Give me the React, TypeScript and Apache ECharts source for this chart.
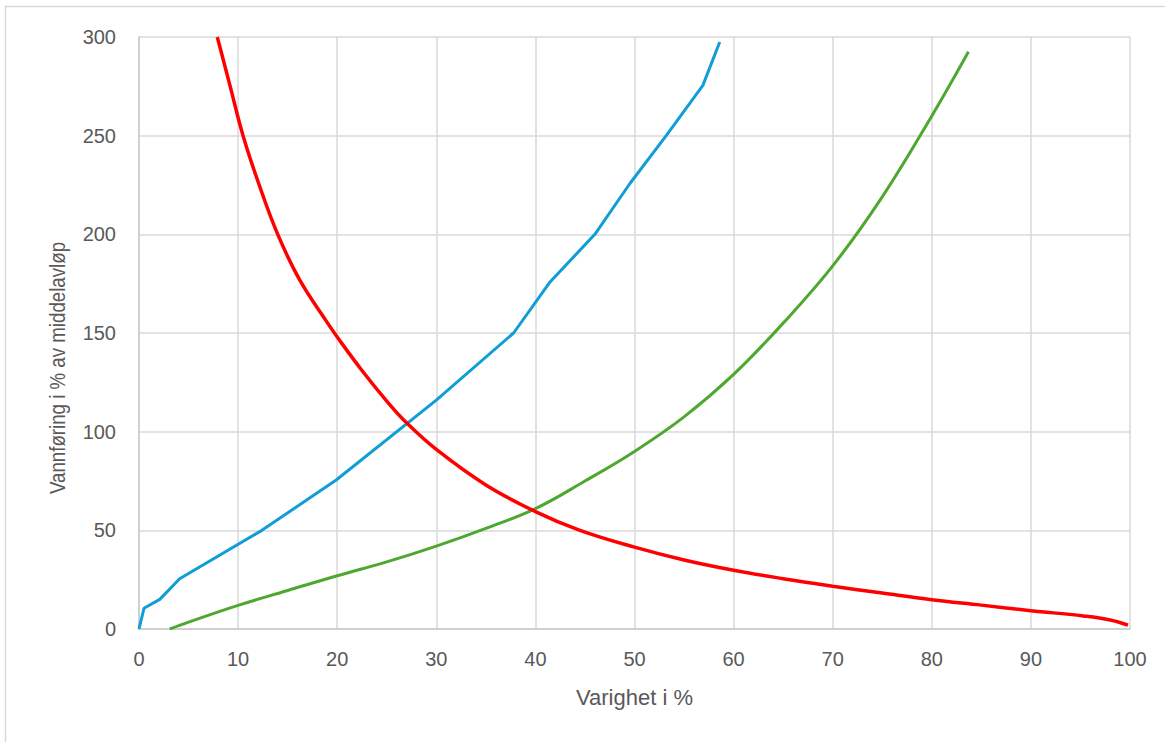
import React, { useEffect, useRef } from "react";
import * as echarts from "echarts";

const xTicks = [0, 10, 20, 30, 40, 50, 60, 70, 80, 90, 100];
const yTicks = [0, 50, 100, 150, 200, 250, 300];

const redX = [7.9, 9.2, 10.5, 12.2, 14, 16.2, 18.9, 20, 22.5, 25, 27, 30, 35, 40, 44.5, 50, 55, 60, 65, 70, 75, 80, 85, 90, 95.3, 98, 99.8];
const redY = [300, 275, 250, 224, 200, 177, 156, 148, 131, 115.5, 104.5, 91, 73, 59.5, 50, 41.5, 35, 29.8, 25.5, 21.7, 18.2, 14.8, 12.1, 9.3, 6.6, 4.6, 2];

const blueX = [0, 0.5, 2.1, 4.1, 12.4, 19.9, 30, 37.8, 41.5, 46, 49.5, 53.2, 56.9, 58.6];
const blueY = [0, 10.5, 15, 25.5, 50, 75.5, 116, 150, 176, 200, 225.5, 250, 275.5, 297.5];

const greenX = [3.1, 5, 10, 15, 20, 25, 30, 35, 40, 45, 50, 55, 60, 65, 70, 75, 80, 83.7];
const greenY = [0, 3.5, 12, 19.5, 27, 34, 42, 51, 61, 75, 90, 107.5, 129, 155, 184, 219, 260, 292.5];

const yTitle = "Vannføring i % av middelavløp";
const xTitle = "Varighet i %";

const zip = (xs: number[], ys: number[]) => xs.map((x, i) => [x, ys[i]]);

export default function App() {
  const ref = useRef<HTMLDivElement>(null);
  useEffect(() => {
    document.body.style.margin = "0";
    const chart = echarts.init(ref.current!, null, { renderer: "svg" });
    const labelFont = "'Liberation Sans', Arial, sans-serif";
    chart.setOption({
      animation: false,
      backgroundColor: "#ffffff",
      graphic: [
        {
          type: "rect",
          shape: { x: 5.5, y: 6.5, width: 1300, height: 900 },
          style: { fill: "none", stroke: "#D9D9D9", lineWidth: 1.5 },
          silent: true,
        },
        {
          type: "text",
          x: 57,
          y: 368,
          rotation: Math.PI / 2,
          scaleX: 0.85,
          style: {
            text: yTitle,
            fill: "#595959",
            fontSize: 22,
            fontFamily: labelFont,
            align: "center",
            verticalAlign: "middle",
          },
          silent: true,
        },
      ],
      grid: { left: 139, right: 35, top: 37, bottom: 113 },
      xAxis: {
        type: "value",
        min: xTicks[0],
        max: xTicks[xTicks.length - 1],
        interval: 10,
        name: xTitle,
        nameLocation: "middle",
        nameGap: 57,
        nameTextStyle: { color: "#595959", fontSize: 22, fontFamily: labelFont },
        axisLine: { show: true, lineStyle: { color: "#D0D0D0", width: 2 } },
        axisTick: { show: false },
        axisLabel: { color: "#595959", fontSize: 20, fontFamily: labelFont, margin: 20 },
        splitLine: { show: true, lineStyle: { color: "#D9D9D9", width: 1.5 } },
      },
      yAxis: {
        type: "value",
        min: yTicks[0],
        max: yTicks[yTicks.length - 1],
        interval: 50,
        axisLine: { show: true, lineStyle: { color: "#D0D0D0", width: 2 } },
        axisTick: { show: false },
        axisLabel: { color: "#595959", fontSize: 20, fontFamily: labelFont, margin: 23 },
        splitLine: { show: true, lineStyle: { color: "#D9D9D9", width: 1.5 } },
      },
      series: [
        {
          type: "line",
          data: zip(blueX, blueY),
          showSymbol: false,
          lineStyle: { color: "#0F9ED5", width: 3 },
          itemStyle: { color: "#0F9ED5" },
        },
        {
          type: "line",
          data: zip(greenX, greenY),
          showSymbol: false,
          smooth: 0.4,
          lineStyle: { color: "#4EA72E", width: 3 },
          itemStyle: { color: "#4EA72E" },
        },
        {
          type: "line",
          data: zip(redX, redY),
          showSymbol: false,
          smooth: 0.4,
          lineStyle: { color: "#FF0000", width: 3.5 },
          itemStyle: { color: "#FF0000" },
        },
      ],
    });
    return () => chart.dispose();
  }, []);
  return <div ref={ref} style={{ width: 1165, height: 742 }} />;
}
